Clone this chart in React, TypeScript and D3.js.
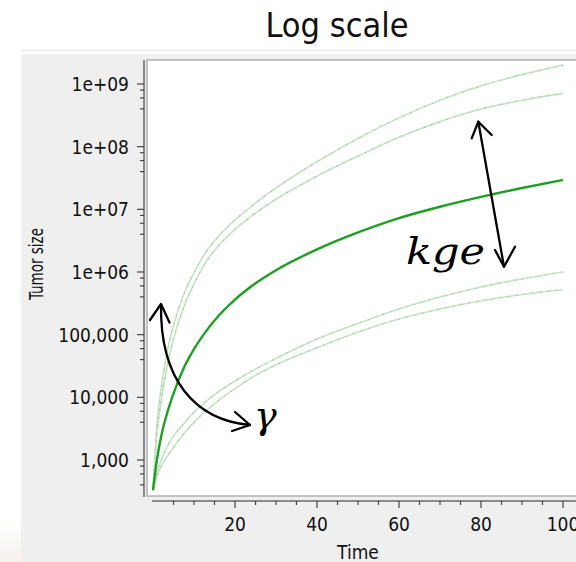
import React from "react";
import * as d3 from "d3";

// ---- data ----
const timePoints = [0, 1, 2, 3.5, 5, 7.5, 10, 13, 16, 20, 25, 30, 40, 50, 60, 70, 80, 90, 100];
const typicalSize = [330, 1050, 2400, 5750, 11500, 29500, 59000, 115000, 200000, 363000, 660000, 1.07e6, 2.29e6, 4.27e6, 7.24e6, 1.1e7, 1.58e7, 2.19e7, 2.95e7];
const highKgeSizeA = [330, 3890, 13800, 55000, 141000, 437000, 977000, 2.14e6, 3.72e6, 6.76e6, 1.26e7, 2.19e7, 5.75e7, 1.35e8, 2.88e8, 5.5e8, 9.33e8, 1.41e9, 2.0e9];
const highKgeSizeB = [330, 2750, 8700, 33100, 85100, 275000, 646000, 1.48e6, 2.63e6, 4.79e6, 8.71e6, 1.45e7, 3.39e7, 7.08e7, 1.41e8, 2.51e8, 3.98e8, 5.5e8, 7.08e8];
const lowKgeSizeC = [330, 631, 1000, 1660, 2400, 3800, 5750, 8700, 12300, 18200, 28200, 41700, 85100, 151000, 257000, 398000, 575000, 776000, 1.0e6];
const lowKgeSizeD = [330, 550, 794, 1150, 1580, 2630, 3980, 6170, 8910, 13800, 22400, 33100, 61700, 110000, 178000, 257000, 347000, 437000, 525000];

const yTickValues = [1e3, 1e4, 1e5, 1e6, 1e7, 1e8, 1e9];
const yTickLabels = ["1,000", "10,000", "100,000", "1e+06", "1e+07", "1e+08", "1e+09"];
const xTickValues = [20, 40, 60, 80, 100];
const xTickLabels = ["20", "40", "60", "80", "100"];
const yMinorMultipliers = [4, 6, 8];

const FONT = "'DejaVu Sans Condensed', 'DejaVu Sans', sans-serif";
const MATH = "'DejaVu Serif', 'Liberation Serif', serif";

export default function App() {
  const W = 576;
  const H = 562;
  const plot = { left: 147, top: 60, right: 576, bottom: 496 };
  const x = d3.scaleLinear().domain([0, 100]).range([153, 563]);
  const y = d3.scaleLog().domain([1e3, 1e9]).range([460, 84]);

  const lineGen = d3
    .line<number>()
    .x((_, i) => x(timePoints[i]))
    .y((d) => y(d))
    .curve(d3.curveMonotoneX);

  const faint = [highKgeSizeA, highKgeSizeB, lowKgeSizeC, lowKgeSizeD];

  const yMinor: number[] = [];
  for (let e = 2; e <= 9; e++) {
    for (const m of yMinorMultipliers) {
      const v = m * Math.pow(10, e);
      const py = y(v);
      if (py >= plot.top && py <= plot.bottom) yMinor.push(v);
    }
  }
  const xMinor = d3.range(5, 101, 5).filter((t) => !xTickValues.includes(t));

  const axisColor = "#8a8a8a";

  return (
    <svg
      width={W}
      height={H}
      style={{ position: "absolute", left: 0, top: 0, display: "block" }}
      xmlns="http://www.w3.org/2000/svg"
    >
      <defs>
        <clipPath id="plotClip">
          <rect x={plot.left} y={plot.top} width={plot.right - plot.left} height={plot.bottom - plot.top} />
        </clipPath>
        <linearGradient id="cornerGrad" x1="0" y1="0" x2="0" y2="1">
          <stop offset="0" stopColor="#ffffff" />
          <stop offset="1" stopColor="#f4f1ea" />
        </linearGradient>
      </defs>
      <rect x={0} y={0} width={W} height={H} fill="#ffffff" />
      <rect x={0} y={522} width={21} height={40} fill="url(#cornerGrad)" />
      {/* gray panel */}
      <rect x={21} y={54} width={W - 21} height={H - 54} fill="#efefef" />
      <line x1={21} x2={W} y1={50.5} y2={50.5} stroke="#e4e4e4" strokeWidth={1} />

      {/* title */}
      <text x={337} y={37} textAnchor="middle" fontFamily={FONT} fontSize={34} fill="#111">
        Log scale
      </text>

      {/* plot panel */}
      <rect
        x={plot.left}
        y={plot.top}
        width={plot.right - plot.left + 2}
        height={plot.bottom - plot.top}
        fill="#ffffff"
        stroke="#b0b0b0"
        strokeWidth={1.5}
      />

      {/* curves */}
      <g clipPath="url(#plotClip)">
        {faint.map((vals, i) => (
          <g key={i}>
            <path d={lineGen(vals) || ""} fill="none" stroke="#c4e4c4" strokeWidth={1.6} />
            <path
              d={lineGen(vals) || ""}
              fill="none"
              stroke="#9db89d"
              strokeWidth={1.2}
              strokeDasharray="1 7"
            />
          </g>
        ))}
        <path d={lineGen(typicalSize) || ""} fill="none" stroke="#1f9e24" strokeWidth={2.4} />
      </g>

      {/* y axis */}
      <line x1={144} x2={144} y1={plot.top} y2={497} stroke={axisColor} strokeWidth={2} />
      {yTickValues.map((v, i) => (
        <g key={v}>
          <line x1={137} x2={144} y1={y(v)} y2={y(v)} stroke="#444" strokeWidth={1.2} />
          <text
            x={129}
            y={y(v)}
            dy="0.36em"
            textAnchor="end"
            fontFamily={FONT}
            fontSize={19}
            fill="#111"
          >
            {yTickLabels[i]}
          </text>
        </g>
      ))}
      {yMinor.map((v) => (
        <line key={v} x1={140} x2={144} y1={y(v)} y2={y(v)} stroke="#444" strokeWidth={1.2} />
      ))}

      {/* x axis */}
      <line x1={152} x2={W} y1={501} y2={501} stroke={axisColor} strokeWidth={2} />
      {xTickValues.map((t, i) => (
        <g key={t}>
          <line x1={x(t)} x2={x(t)} y1={501} y2={508} stroke="#444" strokeWidth={1.2} />
          <text x={x(t)} y={531} textAnchor="middle" fontFamily={FONT} fontSize={19} fill="#111">
            {xTickLabels[i]}
          </text>
        </g>
      ))}
      {xMinor.map((t) => (
        <line key={t} x1={x(t)} x2={x(t)} y1={501} y2={505} stroke="#444" strokeWidth={1.2} />
      ))}

      {/* axis titles */}
      <text x={358} y={559} textAnchor="middle" fontFamily={FONT} fontSize={19} fill="#111">
        Time
      </text>
      <text
        transform="translate(43,264) rotate(-90)"
        textAnchor="middle"
        fontFamily={FONT}
        fontSize={20}
        textLength={72}
        lengthAdjust="spacingAndGlyphs"
        fill="#111"
      >
        Tumor size
      </text>

      {/* gamma arrow */}
      <g fill="none" stroke="#000" strokeWidth={2.3} strokeLinecap="round" strokeLinejoin="round">
        <path d="M161,305 C160,380 195,420 250,425" />
        <path d="M150,320 L161,304 L169.5,322.5" />
        <path d="M235,412 L250,425 L232,431" />
        {/* kge arrow */}
        <path d="M478.3,121.7 L504,266.7" />
        <path d="M471.7,138.3 L478.3,121.7 L491.7,135" />
        <path d="M495,250 L504,266.7 L515,246.7" />
      </g>
      <text
        x={406}
        y={264}
        fontFamily={MATH}
        fontStyle="italic"
        fontSize={37}
        textLength={79}
        lengthAdjust="spacingAndGlyphs"
        fill="#000"
      >
        kge
      </text>
      <text x={254} y={428} fontFamily={MATH} fontStyle="italic" fontSize={38} fill="#000">
        γ
      </text>
    </svg>
  );
}
